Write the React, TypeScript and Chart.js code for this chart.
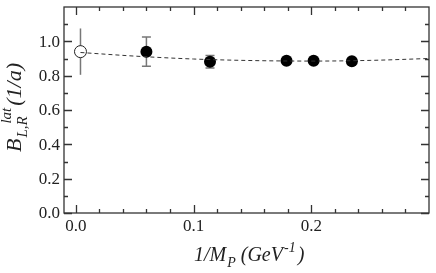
import React, { useEffect, useRef } from "react";
import { Chart, registerables } from "chart.js";

Chart.register(...registerables);

// ---- data ----
const fitX = [0.004, 0.05, 0.1, 0.15, 0.2, 0.25, 0.3];
const fitY = [0.935, 0.914, 0.897, 0.888, 0.885, 0.889, 0.9];

const openX = [0.004];
const openY = [0.94];
const openErr = [0.135];

const dataX = [0.06, 0.114, 0.179, 0.202, 0.2345];
const dataY = [0.94, 0.881, 0.887, 0.887, 0.884];
const dataErr = [0.085, 0.037, 0.012, 0.01, 0.01];

const xMajorTicks = [0, 0.1, 0.2];
const xTickLabels = ["0.0", "0.1", "0.2"];
const xMinorTicks = [0.02, 0.04, 0.06, 0.08, 0.12, 0.14, 0.16, 0.18, 0.22, 0.24, 0.26, 0.28];
const yMajorTicks = [0, 0.2, 0.4, 0.6, 0.8, 1.0];
const yTickLabels = ["0.0", "0.2", "0.4", "0.6", "0.8", "1.0"];
const yMinorTicks = [0.1, 0.3, 0.5, 0.7, 0.9, 1.1];

const SERIF = '"Liberation Serif", "DejaVu Serif", serif';
const INK = "#222";

type Seg = { t: string; size: number; dy: number; dx?: number; absX?: number };

function drawRich(ctx: CanvasRenderingContext2D, segs: Seg[]) {
  let x = 0;
  const starts: number[] = [];
  segs.forEach((s) => {
    ctx.font = `italic ${s.size}px ${SERIF}`;
    const sx = (s.absX !== undefined ? starts[s.absX] : x) + (s.dx || 0);
    ctx.fillText(s.t, sx, s.dy);
    const w = ctx.measureText(s.t).width;
    x = Math.max(x, sx + w);
    starts.push(sx);
  });
}

const framePlugin = {
  id: "framePlugin",
  beforeDatasetsDraw(chart: any) {
    const ctx = chart.ctx as CanvasRenderingContext2D;
    const xs = chart.scales.x;
    const ys = chart.scales.y;
    ctx.save();
    ctx.strokeStyle = "#777";
    ctx.lineWidth = 1.5;
    openX.forEach((v, i) => {
      const px = xs.getPixelForValue(v);
      ctx.beginPath();
      ctx.moveTo(px, ys.getPixelForValue(openY[i] - openErr[i]));
      ctx.lineTo(px, ys.getPixelForValue(openY[i] + openErr[i]));
      ctx.stroke();
    });
    dataX.forEach((v, i) => {
      const px = xs.getPixelForValue(v);
      const lo = ys.getPixelForValue(dataY[i] - dataErr[i]);
      const hi = ys.getPixelForValue(dataY[i] + dataErr[i]);
      ctx.beginPath();
      ctx.moveTo(px, lo);
      ctx.lineTo(px, hi);
      ctx.moveTo(px - 4.5, lo);
      ctx.lineTo(px + 4.5, lo);
      ctx.moveTo(px - 4.5, hi);
      ctx.lineTo(px + 4.5, hi);
      ctx.stroke();
    });
    ctx.restore();
  },
  afterDraw(chart: any) {
    const ctx = chart.ctx as CanvasRenderingContext2D;
    const { left, right, top, bottom } = chart.chartArea;
    const xs = chart.scales.x;
    const ys = chart.scales.y;
    ctx.save();
    ctx.strokeStyle = "#333";
    ctx.lineWidth = 1.3;
    ctx.strokeRect(left, top, right - left, bottom - top);
    ctx.beginPath();
    const tick = (vals: number[], len: number) => {
      vals.forEach((v) => {
        const px = Math.round(xs.getPixelForValue(v)) + 0.5;
        ctx.moveTo(px, bottom);
        ctx.lineTo(px, bottom - len);
        ctx.moveTo(px, top);
        ctx.lineTo(px, top + len);
      });
    };
    const ytick = (vals: number[], len: number) => {
      vals.forEach((v) => {
        const py = Math.round(ys.getPixelForValue(v)) + 0.5;
        ctx.moveTo(left, py);
        ctx.lineTo(left + len, py);
        ctx.moveTo(right, py);
        ctx.lineTo(right - len, py);
      });
    };
    tick(xMajorTicks, 8);
    tick(xMinorTicks, 4);
    ytick(yMajorTicks, 8);
    ytick(yMinorTicks, 4);
    ctx.stroke();

    ctx.fillStyle = INK;
    ctx.font = `17px ${SERIF}`;
    ctx.textAlign = "center";
    ctx.textBaseline = "middle";
    xMajorTicks.forEach((v, i) => {
      ctx.fillText(xTickLabels[i], xs.getPixelForValue(v), bottom + 14);
    });
    ctx.textAlign = "right";
    yMajorTicks.forEach((v, i) => {
      ctx.fillText(yTickLabels[i], left - 4, ys.getPixelForValue(v) + 1);
    });

    // x title
    ctx.textAlign = "left";
    ctx.textBaseline = "alphabetic";
    ctx.save();
    ctx.translate(194, 261);
    drawRich(ctx, [
      { t: "1/M", size: 20, dy: 0 },
      { t: "P", size: 14, dy: 6, dx: 1 },
      { t: "(GeV", size: 20, dy: 0, dx: 5 },
      { t: "-1", size: 14, dy: -9, dx: 1 },
      { t: ")", size: 20, dy: 0, dx: 2 },
    ]);
    ctx.restore();

    // y title
    ctx.save();
    ctx.translate(21, 152);
    ctx.rotate(-Math.PI / 2);
    drawRich(ctx, [
      { t: "B", size: 22, dy: 0 },
      { t: "L,R", size: 15, dy: 6, dx: 1 },
      { t: "lat", size: 15, dy: -10, absX: 1, dx: 14 },
      { t: "(1/a)", size: 22, dy: 0, dx: 2 },
    ]);
    ctx.restore();
    ctx.restore();
  },
};

export default function App() {
  const ref = useRef<HTMLCanvasElement>(null);
  useEffect(() => {
    if (!ref.current) return;
    const chart = new Chart(ref.current, {
      type: "scatter",
      data: {
        datasets: [
          {
            type: "line",
            data: fitX.map((x, i) => ({ x, y: fitY[i] })),
            borderColor: "#333",
            borderWidth: 1,
            borderDash: [4, 3],
            pointRadius: 0,
            cubicInterpolationMode: "monotone",
            fill: false,
          } as any,
          {
            data: openX.map((x, i) => ({ x, y: openY[i] })),
            pointRadius: 6,
            backgroundColor: "#fff",
            borderColor: "#222",
            borderWidth: 1,
          },
          {
            data: dataX.map((x, i) => ({ x, y: dataY[i] })),
            pointRadius: 6,
            backgroundColor: "#000",
            borderColor: "#000",
            borderWidth: 0,
          },
        ],
      },
      options: {
        animation: false,
        responsive: false,
        events: [],
        layout: { padding: { top: 1, right: 2, left: 0, bottom: 0 } },
        plugins: { legend: { display: false }, tooltip: { enabled: false } },
        scales: {
          x: {
            type: "linear",
            min: -0.01,
            max: 0.3,
            ticks: { display: false },
            grid: { display: false },
            border: { display: false },
            afterFit: (s: any) => {
              s.height = 60;
            },
          },
          y: {
            type: "linear",
            min: 0,
            max: 1.2,
            ticks: { display: false },
            grid: { display: false },
            border: { display: false },
            afterFit: (s: any) => {
              s.width = 64;
            },
          },
        },
      },
      plugins: [framePlugin],
    });
    return () => chart.destroy();
  }, []);
  return (
    <div style={{ position: "absolute", left: 0, top: 0, width: 436, height: 273, background: "#fff" }}>
      <canvas ref={ref} width={436} height={273} style={{ display: "block" }} />
    </div>
  );
}
